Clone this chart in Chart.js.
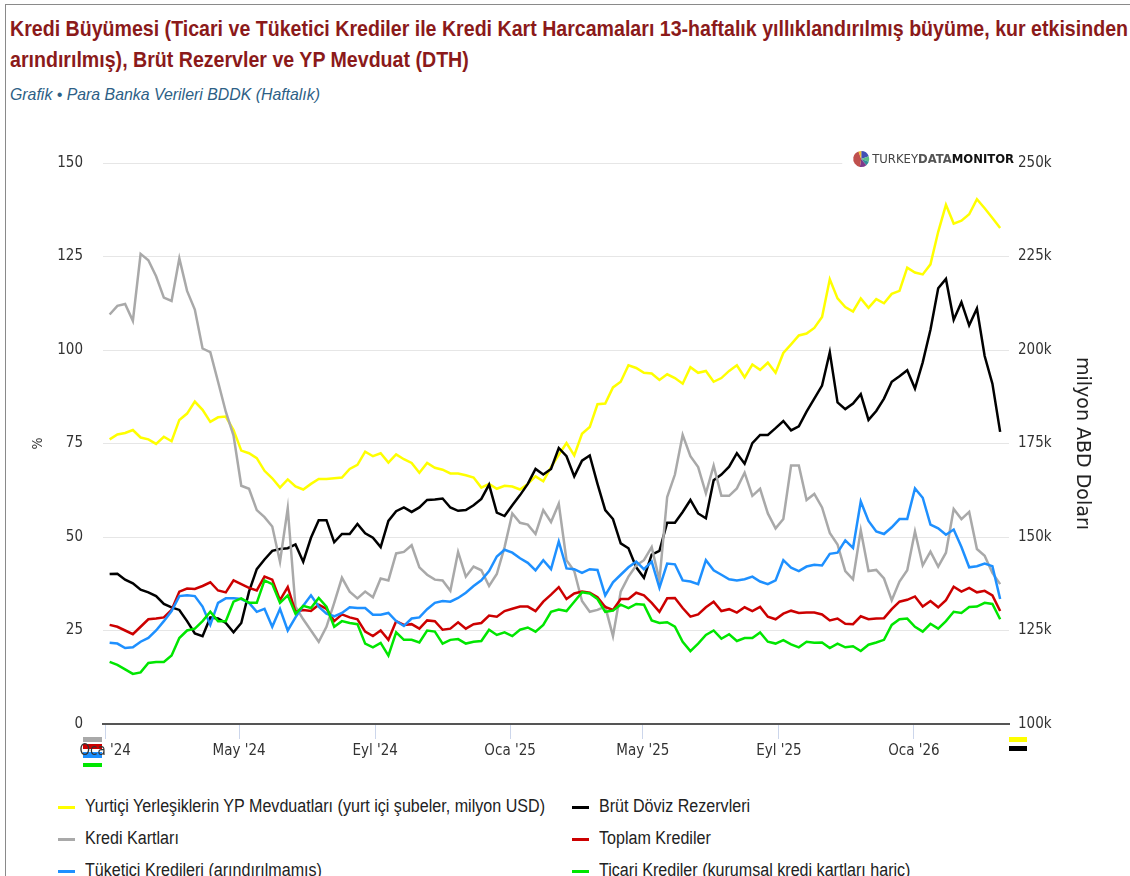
<!DOCTYPE html>
<html lang="tr">
<head>
<meta charset="utf-8">
<title>Kredi Büyümesi</title>
<script src="https://cdn.jsdelivr.net/npm/chart.js@4.4.1/dist/chart.umd.min.js"></script>
<style>
  html, body { margin: 0; padding: 0; background: #fff; }
  body { width: 1130px; height: 876px; overflow: hidden; position: relative;
         font-family: 'Liberation Sans', Arial, sans-serif; }
  .frame { position: absolute; left: 5px; top: 4px; width: 1200px; height: 1000px;
           border-left: 1px solid #8a8a8a; border-top: 1px solid #8a8a8a; }
  .title { position: absolute; left: 10px; top: 13px; font-weight: bold; font-size: 22px;
           line-height: 31px; color: #8b1a1a; white-space: nowrap; }
  .subtitle { position: absolute; left: 10px; top: 84px; font-style: italic; font-size: 17px;
              line-height: 22px; color: #2d5f86; white-space: nowrap; }
  .fit { display: inline-block; transform-origin: 0 50%; white-space: nowrap; }
  #chart { position: absolute; left: 0; top: 110px; }
  .legend { position: absolute; left: 0; top: 790px; width: 1130px; height: 100px; }
  .legend .item { position: absolute; height: 32px; line-height: 32px; font-size: 18px;
                  color: #222; white-space: nowrap; }
  .legend .mark { display: inline-block; width: 17px; height: 3px; vertical-align: middle;
                  margin-right: 10px; }
</style>
</head>
<body>
<div class="frame"></div>
<div class="title">
  <div><span class="fit" id="titleLine1">Kredi Büyümesi (Ticari ve Tüketici Krediler ile Kredi Kart Harcamaları 13-haftalık yıllıklandırılmış büyüme, kur etkisinden</span></div>
  <div><span class="fit" id="titleLine2">arındırılmış), Brüt Rezervler ve YP Mevduat (DTH)</span></div>
</div>
<div class="subtitle"><span class="fit" id="subtitle">Grafik • Para Banka Verileri BDDK (Haftalık)</span></div>
<canvas id="chart" width="1130" height="670"></canvas>
<div class="legend" id="legend"></div>
<script>
// weekly observations (Fridays), counted in days from 1 Jan 2024
const firstDay = 4;      // 5 Jan 2024
const weekCount = 116;   // last one 20 Mar 2026
const weekDays = Array.from({ length: weekCount }, (_, i) => firstDay + 7 * i);

// x axis ticks: 1 Jan, 1 May, 1 Sep
const tickDays = [0, 121, 244, 366, 486, 609, 731];
const tickLabels = ["Oca '24", "May '24", "Eyl '24", "Oca '25", "May '25", "Eyl '25", "Oca '26"];

// right axis, thousand million USD (k)
const ypMevduat = [
  176.1, 177.4, 177.8, 178.6, 176.6, 176.1, 174.9, 176.8, 175.6, 181.3,
  183.0, 186.2, 184.0, 180.8, 182.0, 182.2, 178.6, 173.1, 172.4, 171.1,
  167.7, 165.7, 163.2, 165.4, 163.5, 162.7, 164.2, 165.5, 165.5, 165.7,
  165.9, 168.2, 169.3, 172.8, 171.6, 172.4, 169.9, 172.1, 170.8, 169.8,
  167.2, 169.8, 168.5, 168.0, 167.0, 167.0, 166.5, 165.9, 163.2, 164.2,
  162.9, 163.7, 163.5, 162.7, 164.2, 166.2, 164.9, 168.7, 172.0, 175.1,
  171.8, 177.6, 179.4, 185.5, 185.7, 190.0, 191.5, 195.9, 195.2, 193.9,
  193.7, 192.0, 193.5, 192.5, 191.0, 195.4, 193.9, 194.4, 191.5, 192.5,
  194.4, 195.9, 192.7, 196.1, 194.7, 196.6, 193.9, 199.2, 201.5, 203.9,
  204.4, 205.9, 208.8, 218.9, 213.8, 211.5, 210.3, 213.8, 211.3, 213.6,
  212.5, 215.0, 215.8, 222.0, 220.7, 220.2, 222.9, 231.6, 238.8, 233.8,
  234.6, 236.3, 240.3, 237.9, 235.3, 232.6
];
const brutRezerv = [
  140.1, 140.2, 138.6, 137.6, 135.9, 135.2, 134.2, 132.1, 131.2, 130.5,
  127.5, 124.2, 123.5, 128.5, 128.2, 127.0, 124.5, 127.0, 135.4, 141.4,
  144.0, 146.3, 146.8, 147.0, 148.0, 143.4, 149.8, 154.5, 154.5, 148.6,
  150.8, 150.8, 153.5, 151.0, 149.8, 147.3, 154.3, 156.9, 157.9, 156.7,
  157.9, 159.9, 160.0, 160.3, 157.9, 157.0, 157.2, 158.5, 160.2, 164.0,
  156.5, 155.6, 158.5, 161.2, 164.2, 168.2, 166.7, 168.2, 173.8, 171.6,
  166.2, 170.4, 171.8, 164.2, 157.2, 154.8, 148.3, 147.0, 141.9, 139.1,
  145.3, 146.3, 153.8, 153.8, 156.7, 159.9, 156.3, 155.0, 165.2, 166.7,
  168.8, 172.4, 169.6, 175.1, 177.3, 177.3, 179.1, 181.0, 178.5, 179.6,
  183.5, 187.0, 190.5, 199.4, 186.0, 184.2, 185.7, 188.2, 181.3, 183.7,
  187.0, 191.5, 193.0, 194.6, 189.7, 196.7, 205.4, 216.5, 219.0, 208.1,
  212.8, 206.6, 211.1, 198.4, 191.0, 178.1
];

// left axis, %
const krediKartlari = [
  109.5, 111.8, 112.3, 107.8, 125.7, 124.0, 119.7, 114.0, 113.1, 124.5,
  115.8, 110.8, 100.4, 99.4, 91.5, 83.5, 77.1, 63.7, 62.9, 57.2,
  55.3, 52.8, 43.4, 57.7, 31.4, 28.0, 25.0, 22.0, 26.0, 32.4,
  39.1, 35.4, 33.6, 35.4, 33.9, 38.9, 38.4, 45.6, 46.0, 47.8,
  41.9, 39.9, 38.6, 38.4, 35.6, 46.0, 39.4, 42.1, 41.1, 36.9,
  40.1, 47.3, 56.3, 53.8, 53.3, 50.8, 57.2, 54.0, 58.9, 43.8,
  40.9, 32.9, 30.0, 30.5, 31.4, 23.5, 35.4, 39.4, 42.4, 43.8,
  47.3, 38.4, 60.7, 66.7, 77.3, 71.6, 68.7, 61.7, 69.1, 61.0,
  61.0, 63.0, 67.2, 61.0, 62.9, 56.3, 52.3, 54.8, 69.1, 69.1,
  59.9, 61.5, 57.9, 51.1, 48.0, 40.9, 38.7, 51.8, 40.9, 41.2,
  38.9, 33.1, 38.1, 41.1, 51.5, 42.4, 46.1, 42.1, 45.8, 57.5,
  54.8, 56.7, 46.8, 45.0, 40.4, 37.4
];
const toplamKrediler = [
  26.5, 26.0, 25.0, 24.0, 26.0, 28.0, 28.2, 28.5, 30.5, 35.4,
  36.2, 36.1, 36.9, 37.9, 35.7, 35.2, 38.4, 37.4, 36.4, 35.7,
  39.4, 38.6, 33.1, 36.6, 30.0, 30.5, 30.2, 31.9, 30.8, 27.5,
  29.3, 28.5, 28.0, 24.7, 23.5, 25.0, 22.5, 27.5, 26.5, 26.7,
  25.5, 27.7, 27.5, 25.2, 25.5, 27.2, 25.5, 26.7, 27.0, 29.0,
  28.7, 30.2, 30.8, 31.4, 31.4, 30.2, 32.7, 34.6, 36.6, 33.4,
  34.9, 35.4, 35.1, 33.9, 31.3, 30.5, 33.4, 33.4, 35.1, 34.4,
  32.4, 30.0, 33.6, 33.7, 31.0, 28.7, 29.3, 31.2, 32.7, 30.2,
  30.7, 29.8, 31.2, 30.2, 31.3, 28.7, 28.0, 29.5, 30.3, 29.7,
  29.8, 29.8, 29.3, 27.7, 28.2, 26.8, 26.7, 28.8, 28.0, 28.2,
  28.3, 30.7, 32.7, 33.2, 34.1, 31.4, 32.9, 31.2, 33.1, 36.7,
  35.4, 36.4, 35.2, 35.6, 34.4, 30.2
];
const tuketiciKredileri = [
  21.7, 21.5, 20.3, 20.5, 22.0, 23.0, 25.0, 27.5, 30.2, 34.2,
  34.4, 34.2, 31.4, 26.5, 32.4, 33.6, 33.6, 33.4, 32.4, 30.0,
  30.8, 26.0, 30.8, 25.0, 28.5, 31.6, 34.4, 31.4, 29.5, 28.8,
  29.7, 31.2, 31.0, 31.0, 29.2, 29.2, 29.7, 27.5, 26.2, 28.2,
  28.5, 30.7, 32.4, 32.9, 32.7, 33.7, 35.1, 36.9, 38.4, 40.9,
  44.8, 46.6, 45.8, 44.3, 43.1, 41.1, 43.8, 41.4, 48.8, 41.6,
  41.4, 40.4, 41.4, 41.2, 34.4, 37.9, 39.9, 41.9, 43.4, 41.4,
  43.4, 36.4, 42.9, 42.7, 38.4, 38.1, 37.4, 43.8, 41.1, 39.9,
  38.7, 38.4, 38.7, 39.4, 38.1, 37.4, 38.4, 43.8, 41.8, 40.9,
  42.1, 42.6, 42.4, 45.5, 45.8, 49.1, 47.1, 59.5, 54.3, 51.5,
  50.8, 52.6, 54.8, 54.8, 63.0, 60.5, 53.3, 52.3, 50.6, 52.0,
  47.3, 41.9, 42.2, 42.9, 42.2, 33.4
];
const ticariKrediler = [
  16.6, 15.8, 14.6, 13.4, 13.8, 16.3, 16.6, 16.6, 18.3, 23.0,
  25.0, 25.5, 27.5, 30.0, 27.5, 27.5, 32.7, 33.6, 32.4, 32.4,
  38.4, 37.4, 32.4, 34.4, 29.5, 31.6, 31.0, 33.7, 31.4, 26.0,
  27.5, 27.0, 26.7, 21.5, 20.5, 21.7, 18.3, 24.5, 22.5, 22.5,
  21.8, 25.0, 24.7, 21.5, 22.5, 22.7, 21.5, 22.0, 22.2, 25.2,
  23.8, 24.5, 23.5, 25.2, 25.8, 24.7, 26.5, 30.0, 30.6, 30.2,
  32.7, 35.2, 34.9, 33.4, 30.0, 30.3, 31.9, 31.0, 32.1, 31.9,
  27.7, 27.0, 27.2, 26.0, 22.0, 19.5, 21.5, 23.8, 25.0, 22.8,
  24.0, 22.2, 23.0, 23.0, 24.5, 22.0, 21.5, 22.4, 21.3, 20.5,
  22.0, 21.7, 21.8, 20.3, 21.5, 20.5, 20.8, 19.5, 21.2, 21.8,
  22.5, 26.5, 28.0, 28.2, 26.0, 24.7, 26.8, 25.5, 27.5, 30.0,
  29.7, 31.3, 31.4, 32.4, 32.1, 28.0
];

const seriesNames = [
  'Yurtiçi Yerleşiklerin YP Mevduatları (yurt içi şubeler, milyon USD)',
  'Brüt Döviz Rezervleri',
  'Kredi Kartları',
  'Toplam Krediler',
  'Tüketici Kredileri (arındırılmamış)',
  'Ticari Krediler (kurumsal kredi kartları hariç)'
];
const seriesValues = [ypMevduat, brutRezerv, krediKartlari, toplamKrediler, tuketiciKredileri, ticariKrediler];
const seriesAxis = ['yR', 'yR', 'yL', 'yL', 'yL', 'yL'];
const seriesColors = ['#ffff00', '#000000', '#a9a9a9', '#cc0000', '#1e90ff', '#00e600'];

const NARROW = "'DejaVu Sans Condensed', 'Liberation Sans', sans-serif";
Chart.defaults.font.family = NARROW;
Chart.defaults.color = '#333';

// squeeze a text span to a measured width (stand-in for a narrow face)
function fitTo(el, target) {
  const w = el.getBoundingClientRect().width;
  const k = target / w;
  el.style.transform = 'scaleX(' + k + ')';
  return k;
}
const titleScale = fitTo(document.getElementById('titleLine1'), 1118);
document.getElementById('titleLine2').style.transform = 'scaleX(' + titleScale + ')';
fitTo(document.getElementById('subtitle'), 310);

const datasets = seriesValues.map((vals, i) => ({
  label: seriesNames[i],
  data: vals.map((v, j) => ({ x: weekDays[j], y: v })),
  yAxisID: seriesAxis[i],
  borderColor: seriesColors[i],
  backgroundColor: seriesColors[i],
  borderWidth: 2.5,
  pointRadius: 0,
  tension: 0,
  order: seriesValues.length - i
}));

// small coloured tags under both ends of the x axis
const axisTags = {
  id: 'axisTags',
  beforeDraw(chart) {
    const { ctx, chartArea: ca } = chart;
    const left = [[2, 13, 5], [3, 20, 5], [4, 28, 6], [5, 39, 4]];
    const right = [[0, 13, 5], [1, 22, 5]];
    ctx.save();
    left.forEach(([i, dy, h]) => {
      ctx.fillStyle = seriesColors[i];
      ctx.fillRect(ca.left - 20, ca.bottom + dy, 19, h);
    });
    right.forEach(([i, dy, h]) => {
      ctx.fillStyle = seriesColors[i];
      ctx.fillRect(ca.right, ca.bottom + dy, 18, h);
    });
    ctx.restore();
  }
};

// TURKEYDATAMONITOR mark in the top right corner
const logo = {
  id: 'logo',
  afterDraw(chart) {
    const { ctx, chartArea: ca } = chart;
    const parts = [['TURKEY', 'normal', '#444'], ['DATA', 'bold', '#555'], ['MONITOR', 'bold', '#111']];
    const rightEdge = ca.right + 5;
    const cy = ca.top - 4;
    let size = 19;
    ctx.save();
    const widthAt = s => parts.reduce((w, p) => {
      ctx.font = p[1] + ' ' + s + 'px ' + NARROW;
      return w + ctx.measureText(p[0]).width;
    }, 0);
    size = size * 142 / widthAt(size);
    const total = widthAt(size);
    let x = rightEdge - total;
    ctx.fillStyle = '#fff';
    ctx.fillRect(x - 30, cy - 10, total + 30, 20);
    // pie icon
    const px = x - 11, r = 8;
    const slices = [['#4150b5', 70], ['#5cc08a', 40], ['#2f8f9a', 30], ['#7d3a8c', 50], ['#c0504d', 150], ['#f2c12e', 20]];
    let a = -Math.PI / 2;
    slices.forEach(([c, deg]) => {
      const b = a + deg * Math.PI / 180;
      ctx.beginPath();
      ctx.moveTo(px, cy);
      ctx.arc(px, cy, r, a, b);
      ctx.closePath();
      ctx.fillStyle = c;
      ctx.fill();
      a = b;
    });
    ctx.textBaseline = 'middle';
    parts.forEach(p => {
      ctx.font = p[1] + ' ' + size + 'px ' + NARROW;
      ctx.fillStyle = p[2];
      ctx.fillText(p[0], x, cy + 1);
      x += ctx.measureText(p[0]).width;
    });
    ctx.restore();
  }
};

const ctx = document.getElementById('chart').getContext('2d');
const chart = new Chart(ctx, {
  type: 'line',
  data: { datasets: datasets },
  options: {
    responsive: false,
    animation: false,
    devicePixelRatio: 1,
    layout: { padding: { top: 53, bottom: 16, left: 0, right: 0 } },
    plugins: { legend: { display: false }, tooltip: { enabled: false } },
    scales: {
      x: {
        type: 'linear',
        min: -2,
        max: 817,
        afterFit: s => { s.height = 40; },
        afterBuildTicks: s => { s.ticks = tickDays.map(v => ({ value: v })); },
        ticks: {
          autoSkip: false,
          maxRotation: 0,
          padding: 3,
          font: { size: 15 },
          color: '#333',
          callback: v => tickLabels[tickDays.indexOf(v)]
        },
        grid: { drawOnChartArea: false, drawTicks: true, tickLength: 15, color: '#ccd6eb' },
        border: { display: true, color: '#555', width: 2 }
      },
      yL: {
        position: 'left',
        min: 0,
        max: 150,
        afterFit: s => { s.width = 103; },
        ticks: { stepSize: 25, padding: 20, font: { size: 15 }, color: '#333' },
        grid: { color: '#e6e6e6', drawTicks: false },
        border: { display: false },
        title: { display: true, text: '%', font: { size: 14 }, color: '#333', padding: { top: 30, bottom: 0 } }
      },
      yR: {
        position: 'right',
        min: 100,
        max: 250,
        afterFit: s => { s.width = 121; },
        ticks: { stepSize: 25, padding: 9, font: { size: 15 }, color: '#333', callback: v => v + 'k' },
        grid: { drawOnChartArea: false, drawTicks: false },
        border: { display: false },
        title: {
          display: true,
          text: 'milyon ABD Doları',
          font: { size: 19, family: "'DejaVu Sans', sans-serif" },
          color: '#222',
          padding: { top: 37, bottom: 0 }
        }
      }
    }
  },
  plugins: [axisTags, logo]
});

// legend in two columns, same order as the series
const legendBox = document.getElementById('legend');
const colX = [58, 572];
const legendTexts = seriesNames.map((name, i) => {
  const item = document.createElement('div');
  item.className = 'item';
  item.style.left = colX[i % 2] + 'px';
  item.style.top = (Math.floor(i / 2) * 32) + 'px';
  const mark = document.createElement('span');
  mark.className = 'mark';
  mark.style.background = seriesColors[i];
  const text = document.createElement('span');
  text.className = 'fit';
  text.textContent = name;
  item.appendChild(mark);
  item.appendChild(text);
  legendBox.appendChild(item);
  return text;
});
const legendScale = fitTo(legendTexts[0], 460);
legendTexts.slice(1).forEach(t => { t.style.transform = 'scaleX(' + legendScale + ')'; });
</script>
</body>
</html>
